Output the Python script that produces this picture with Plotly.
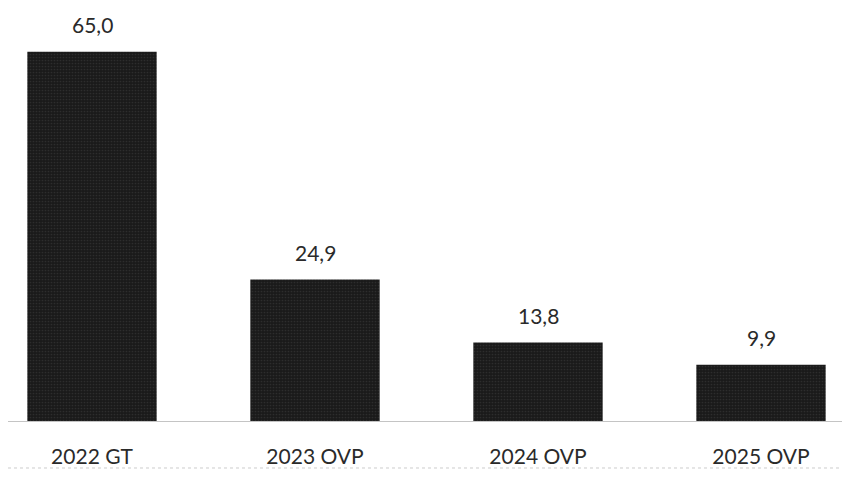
import plotly.graph_objects as go

categories = ["2022 GT", "2023 OVP", "2024 OVP", "2025 OVP"]
values = [65.0, 24.9, 13.8, 9.9]
value_labels = ["65,0", "24,9", "13,8", "9,9"]

fig = go.Figure()
fig.add_trace(go.Bar(
    x=categories,
    y=values,
    width=0.58,
    marker=dict(
        color="#1a1a1a",
        line=dict(width=0),
        pattern=dict(shape=".", fgcolor="#404040", size=3, solidity=0.25),
    ),
    hoverinfo="skip",
))

for c, v, t in zip(categories, values, value_labels):
    fig.add_annotation(x=c, y=v, text=t, showarrow=False, yanchor="middle",
                       yshift=27, font=dict(family="Lato", size=21, color="#2a2a2a"))

# faint scan line below the labels
fig.add_shape(type="line", xref="paper", yref="paper", x0=0, x1=1, y0=-0.1138, y1=-0.1138,
              line=dict(color="#cccccc", width=1, dash="dot"))

fig.update_layout(
    width=850, height=490,
    margin=dict(l=0, r=0, t=0, b=77),
    paper_bgcolor="white", plot_bgcolor="white",
    showlegend=False,
    xaxis=dict(
        range=[-0.3767, 3.435],
        showgrid=False, zeroline=False,
        showline=True, linecolor="#c4c4c4", linewidth=1,
        ticks="", ticklabelstandoff=17,
        tickfont=dict(family="Lato", size=21, color="#2a2a2a"),
    ),
    yaxis=dict(range=[0, 72.7], visible=False),
)

fig.write_html("out.html")
